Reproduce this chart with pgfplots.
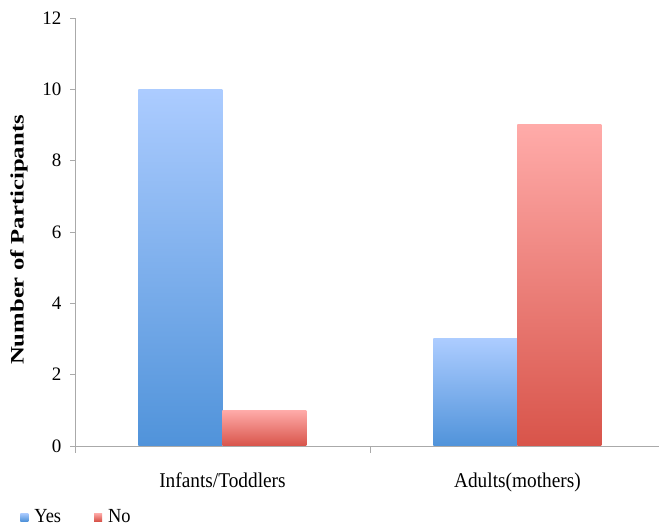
\documentclass[border=0pt]{standalone}
\usepackage{pgfplots}
\pgfplotsset{compat=1.18}
\usepackage{fontspec}
\setmainfont{Liberation Serif}
\definecolor{bluetop}{RGB}{172,204,255}
\definecolor{bluebot}{RGB}{80,147,218}
\definecolor{redtop}{RGB}{255,171,169}
\definecolor{redbot}{RGB}{216,84,74}
\definecolor{axgray}{RGB}{170,170,170}
\begin{document}
\begin{tikzpicture}
\begin{axis}[
  at={(75pt,83pt)}, anchor=south west,
  scale only axis, width=584pt, height=428pt,
  xmin=-0.5, xmax=1.48, ymin=0, ymax=12,
  ytick={0,2,...,12},
  xtick={0,1},
  xticklabels={Infants/Toddlers, Adults(mothers)},
  minor xtick={-0.5,0.5},
  axis x line*=bottom, axis y line*=left,
  axis line style={axgray, line width=0.8pt},
  every tick/.style={axgray, line width=0.8pt},
  tick align=outside,
  major tick length=5pt,
  minor tick length=7pt,
  major x tick style={draw=none},
  /pgf/number format/assume math mode=true,
  tick label style={font=\fontsize{19}{22}\selectfont},
  yticklabel style={xshift=-5pt},
  xticklabel style={yshift=-18pt, font=\fontsize{21}{24}\selectfont, xscale=0.92},
  ylabel={\scalebox{1.3}[1]{\bfseries Number of Participants}},
  ylabel style={font=\fontsize{19}{22}\selectfont, yshift=8pt, xshift=-8pt},
  ybar=0pt, bar width=84pt,
  legend columns=2,
  legend style={at={(rel axis cs:-0.094,-0.166)}, anchor=west, draw=none, fill=none, inner sep=0pt,
    font=\fontsize{20}{22}\selectfont,
    /tikz/every odd column/.append style={column sep=4pt},
    /tikz/every even column/.append style={column sep=31pt}},
  legend image code/.code={\path[#1] (0pt,-4pt) rectangle (8pt,4pt);},
]
\addplot[draw=none, bar shift=-42pt, top color=bluetop, bottom color=bluebot] coordinates {(0,10)};
\addplot[draw=none, bar shift=42pt, top color=redtop, bottom color=redbot] coordinates {(0,1)};
\addplot[forget plot, draw=none, bar shift=-42pt, top color=bluetop, bottom color=bluebot] coordinates {(1,3)};
\addplot[forget plot, draw=none, bar shift=42pt, top color=redtop, bottom color=redbot] coordinates {(1,9)};
\legend{\scalebox{0.92}[1]{Yes}, \scalebox{0.92}[1]{No}}
\end{axis}
\pgfresetboundingbox
\path[use as bounding box] (0,0) rectangle (660pt,529pt);
\end{tikzpicture}
\end{document}
